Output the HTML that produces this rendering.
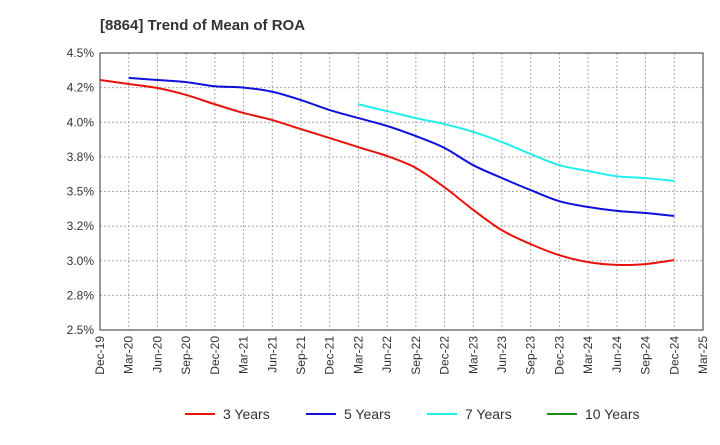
<!DOCTYPE html>
<html><head><meta charset="utf-8"><style>
body{margin:0;background:#fff;font-family:"Liberation Sans",sans-serif;}
svg text{font-family:"Liberation Sans",sans-serif;}
</style></head><body>
<svg id="chart" width="720" height="440" xmlns="http://www.w3.org/2000/svg">
<text x="100" y="30" font-size="15" font-weight="bold" fill="#333">[8864]  Trend of Mean of ROA</text>
<g id="grid"></g><g id="axes"></g><g id="series"></g><g id="legend"></g>
</svg>
<script>
const categories=["Dec-19","Mar-20","Jun-20","Sep-20","Dec-20","Mar-21","Jun-21","Sep-21","Dec-21","Mar-22","Jun-22","Sep-22","Dec-22","Mar-23","Jun-23","Sep-23","Dec-23","Mar-24","Jun-24","Sep-24","Dec-24","Mar-25"];
const yTicks=[2.5,2.75,3.0,3.25,3.5,3.75,4.0,4.25,4.5];
const yTickLabels=["2.5%","2.8%","3.0%","3.2%","3.5%","3.8%","4.0%","4.2%","4.5%"];
const s3=[4.305,4.276,4.247,4.197,4.13,4.067,4.016,3.95,3.886,3.82,3.756,3.67,3.53,3.367,3.22,3.12,3.04,2.99,2.97,2.976,3.005];
const s5=[null,4.32,4.305,4.29,4.26,4.25,4.22,4.16,4.088,4.03,3.973,3.9,3.814,3.69,3.597,3.51,3.43,3.388,3.36,3.345,3.323];
const s7=[null,null,null,null,null,null,null,null,null,4.13,4.08,4.03,3.987,3.93,3.857,3.77,3.69,3.648,3.61,3.597,3.576];
const s10=[];
const seriesNames=["3 Years","5 Years","7 Years","10 Years"];
const seriesColors=["#e8120c","#1010dd","#22eeee","#1a8a1a"];
const L=100,R=703,T=53,B=330,NS="http://www.w3.org/2000/svg";
const xs=i=>L+(R-L)*i/(categories.length-1);
const ys=v=>B-(v-2.5)/2*(B-T);
function mk(tag,at,parent,name){const e=document.createElementNS(NS,tag);for(const k in at)e.setAttribute(k,at[k]);


parent.appendChild(e);return e;}
const grid=document.getElementById('grid'),axes=document.getElementById('axes');
yTicks.forEach((t,i)=>{mk('line',{x1:L,x2:R,y1:ys(t),y2:ys(t),stroke:'#aaa','stroke-dasharray':'2,2'},grid,'y-gridline');
const tx=mk('text',{x:L-6,y:ys(t)+4,'text-anchor':'end','font-size':12,fill:'#333'},axes,'y-tick-label');tx.textContent=yTickLabels[i];});
categories.forEach((c,i)=>{if(i>0&&i<categories.length-1)mk('line',{x1:xs(i),x2:xs(i),y1:T,y2:B,stroke:'#aaa','stroke-dasharray':'2,2'},grid,'x-gridline');
const tx=mk('text',{transform:`translate(${xs(i)+4},${B+6}) rotate(-90)`,'text-anchor':'end','font-size':12,fill:'#333'},axes,'x-tick-label');tx.textContent=c;});
mk('rect',{x:L,y:T,width:R-L,height:B-T,fill:'none',stroke:'#333'},axes,'plot-frame');
function path(data){const p=[];data.forEach((v,i)=>{if(v!=null)p.push([xs(i),ys(v)]);});if(p.length<2)return'';
let d=`M${p[0][0]},${p[0][1]}`;for(let i=0;i<p.length-1;i++){const a=p[i-1]||p[i],b=p[i],c=p[i+1],e=p[i+2]||c;
d+=` C${b[0]+(c[0]-a[0])/6},${b[1]+(c[1]-a[1])/6} ${c[0]-(e[0]-b[0])/6},${c[1]-(e[1]-b[1])/6} ${c[0]},${c[1]}`;}return d;}
const sg=document.getElementById('series');
[s3,s5,s7,s10].forEach((s,k)=>{const d=path(s);if(d)mk('path',{d:d,fill:'none',stroke:seriesColors[k],'stroke-width':2},sg,'line-'+seriesNames[k].replace(' ','-').toLowerCase());});
const lg=document.getElementById('legend');const lx=[185,306,427,547];
seriesNames.forEach((n,k)=>{mk('line',{x1:lx[k],x2:lx[k]+30,y1:414,y2:414,stroke:seriesColors[k],'stroke-width':2},lg,'legend-swatch');
const t=mk('text',{x:lx[k]+38,y:419,'font-size':14,fill:'#333'},lg,'legend-entry');t.textContent=n;});
</script>
</body></html>
